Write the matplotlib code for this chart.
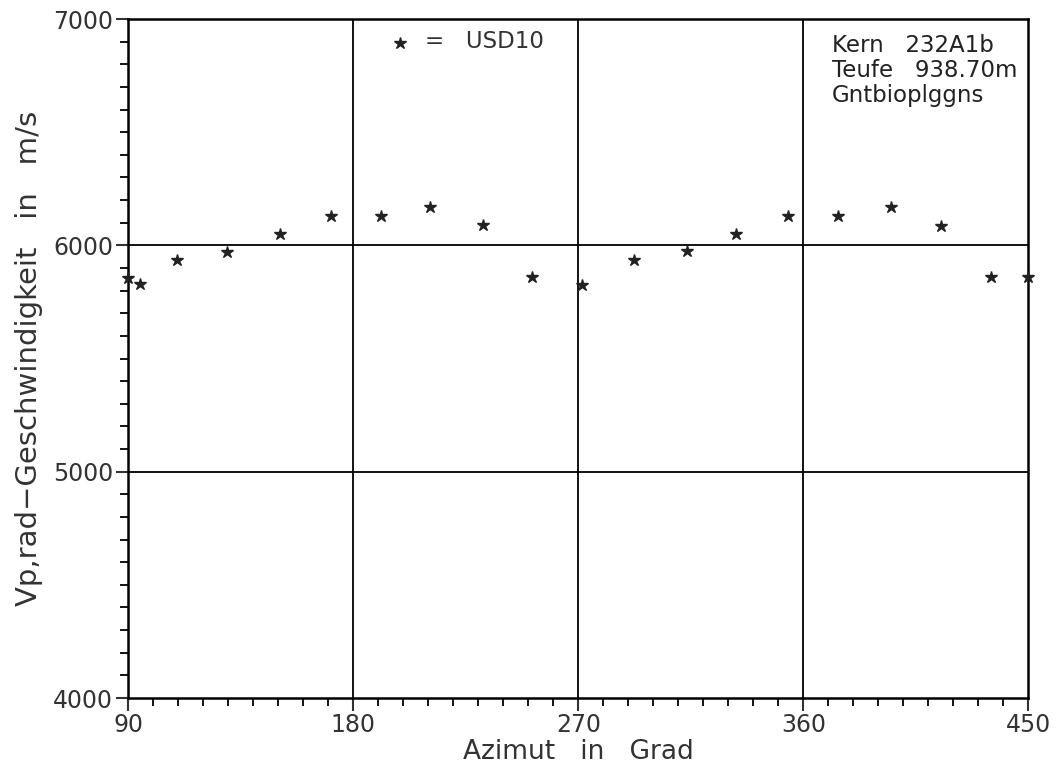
import matplotlib
matplotlib.use("Agg")
import matplotlib.pyplot as plt
from matplotlib.ticker import MultipleLocator, FixedLocator

azimut = [90, 94.7, 109.6, 129.5, 150.7, 171, 191, 210.8, 231.9, 251.5,
          271.6, 292.2, 313.3, 333.2, 353.7, 373.7, 394.9, 414.9, 435, 450]
vp = [5857, 5828, 5935, 5972, 6050, 6131, 6129, 6171, 6090, 5859,
      5823, 5934, 5975, 6049, 6131, 6129, 6169, 6087, 5859, 5859]

x_ticks = [90, 180, 270, 360, 450]
y_ticks = [4000, 5000, 6000, 7000]
info_lines = ["Kern   232A1b", "Teufe   938.70m", "Gntbioplggns"]
legend_label = "=   USD10"

plt.rcParams['font.family'] = ['DejaVu Sans']
fig = plt.figure(figsize=(10.57, 7.73), dpi=100)
ax = fig.add_axes([0.1214, 0.0970, 0.9728 - 0.1214, 0.9754 - 0.0970])

ax.set_xlim(90, 450)
ax.set_ylim(4000, 7000)

for xv in x_ticks[1:-1]:
    ax.axvline(xv, color='black', lw=1.3, zorder=1)
for yv in y_ticks[1:-1]:
    ax.axhline(yv, color='black', lw=1.3, zorder=1)

ax.plot(azimut, vp, linestyle='none', marker='*', markersize=9,
        color='#222222', zorder=3, clip_on=False)

ax.xaxis.set_major_locator(FixedLocator(x_ticks))
ax.yaxis.set_major_locator(FixedLocator(y_ticks))
ax.xaxis.set_minor_locator(MultipleLocator(10))
ax.yaxis.set_minor_locator(MultipleLocator(100))
ax.tick_params(axis='both', which='major', direction='out', length=9,
               width=1.5, labelsize=17, colors='#333333', pad=2)
ax.tick_params(axis='both', which='minor', direction='out', length=6, width=1.3)
for s in ax.spines.values():
    s.set_linewidth(1.8)

ax.set_xlabel("Azimut   in   Grad", fontsize=19, labelpad=1, color='#333333')
ax.set_ylabel("Vp,rad\u2212Geschwindigkeit   in   m/s", fontsize=21,
              labelpad=7, color='#333333')

# legend
ax.plot([198.7], [6894], linestyle='none', marker='*', markersize=9,
        color='#222222')
ax.text(208.7, 6870, legend_label, fontsize=16.5, va='baseline', ha='left',
        color='#333333')

# info block
for i, line in enumerate(info_lines):
    ax.text(371.5, 6855 - i * 110, line, fontsize=16.5, va='baseline',
            ha='left', color='#222222')

fig.savefig("out.png", dpi=100)
